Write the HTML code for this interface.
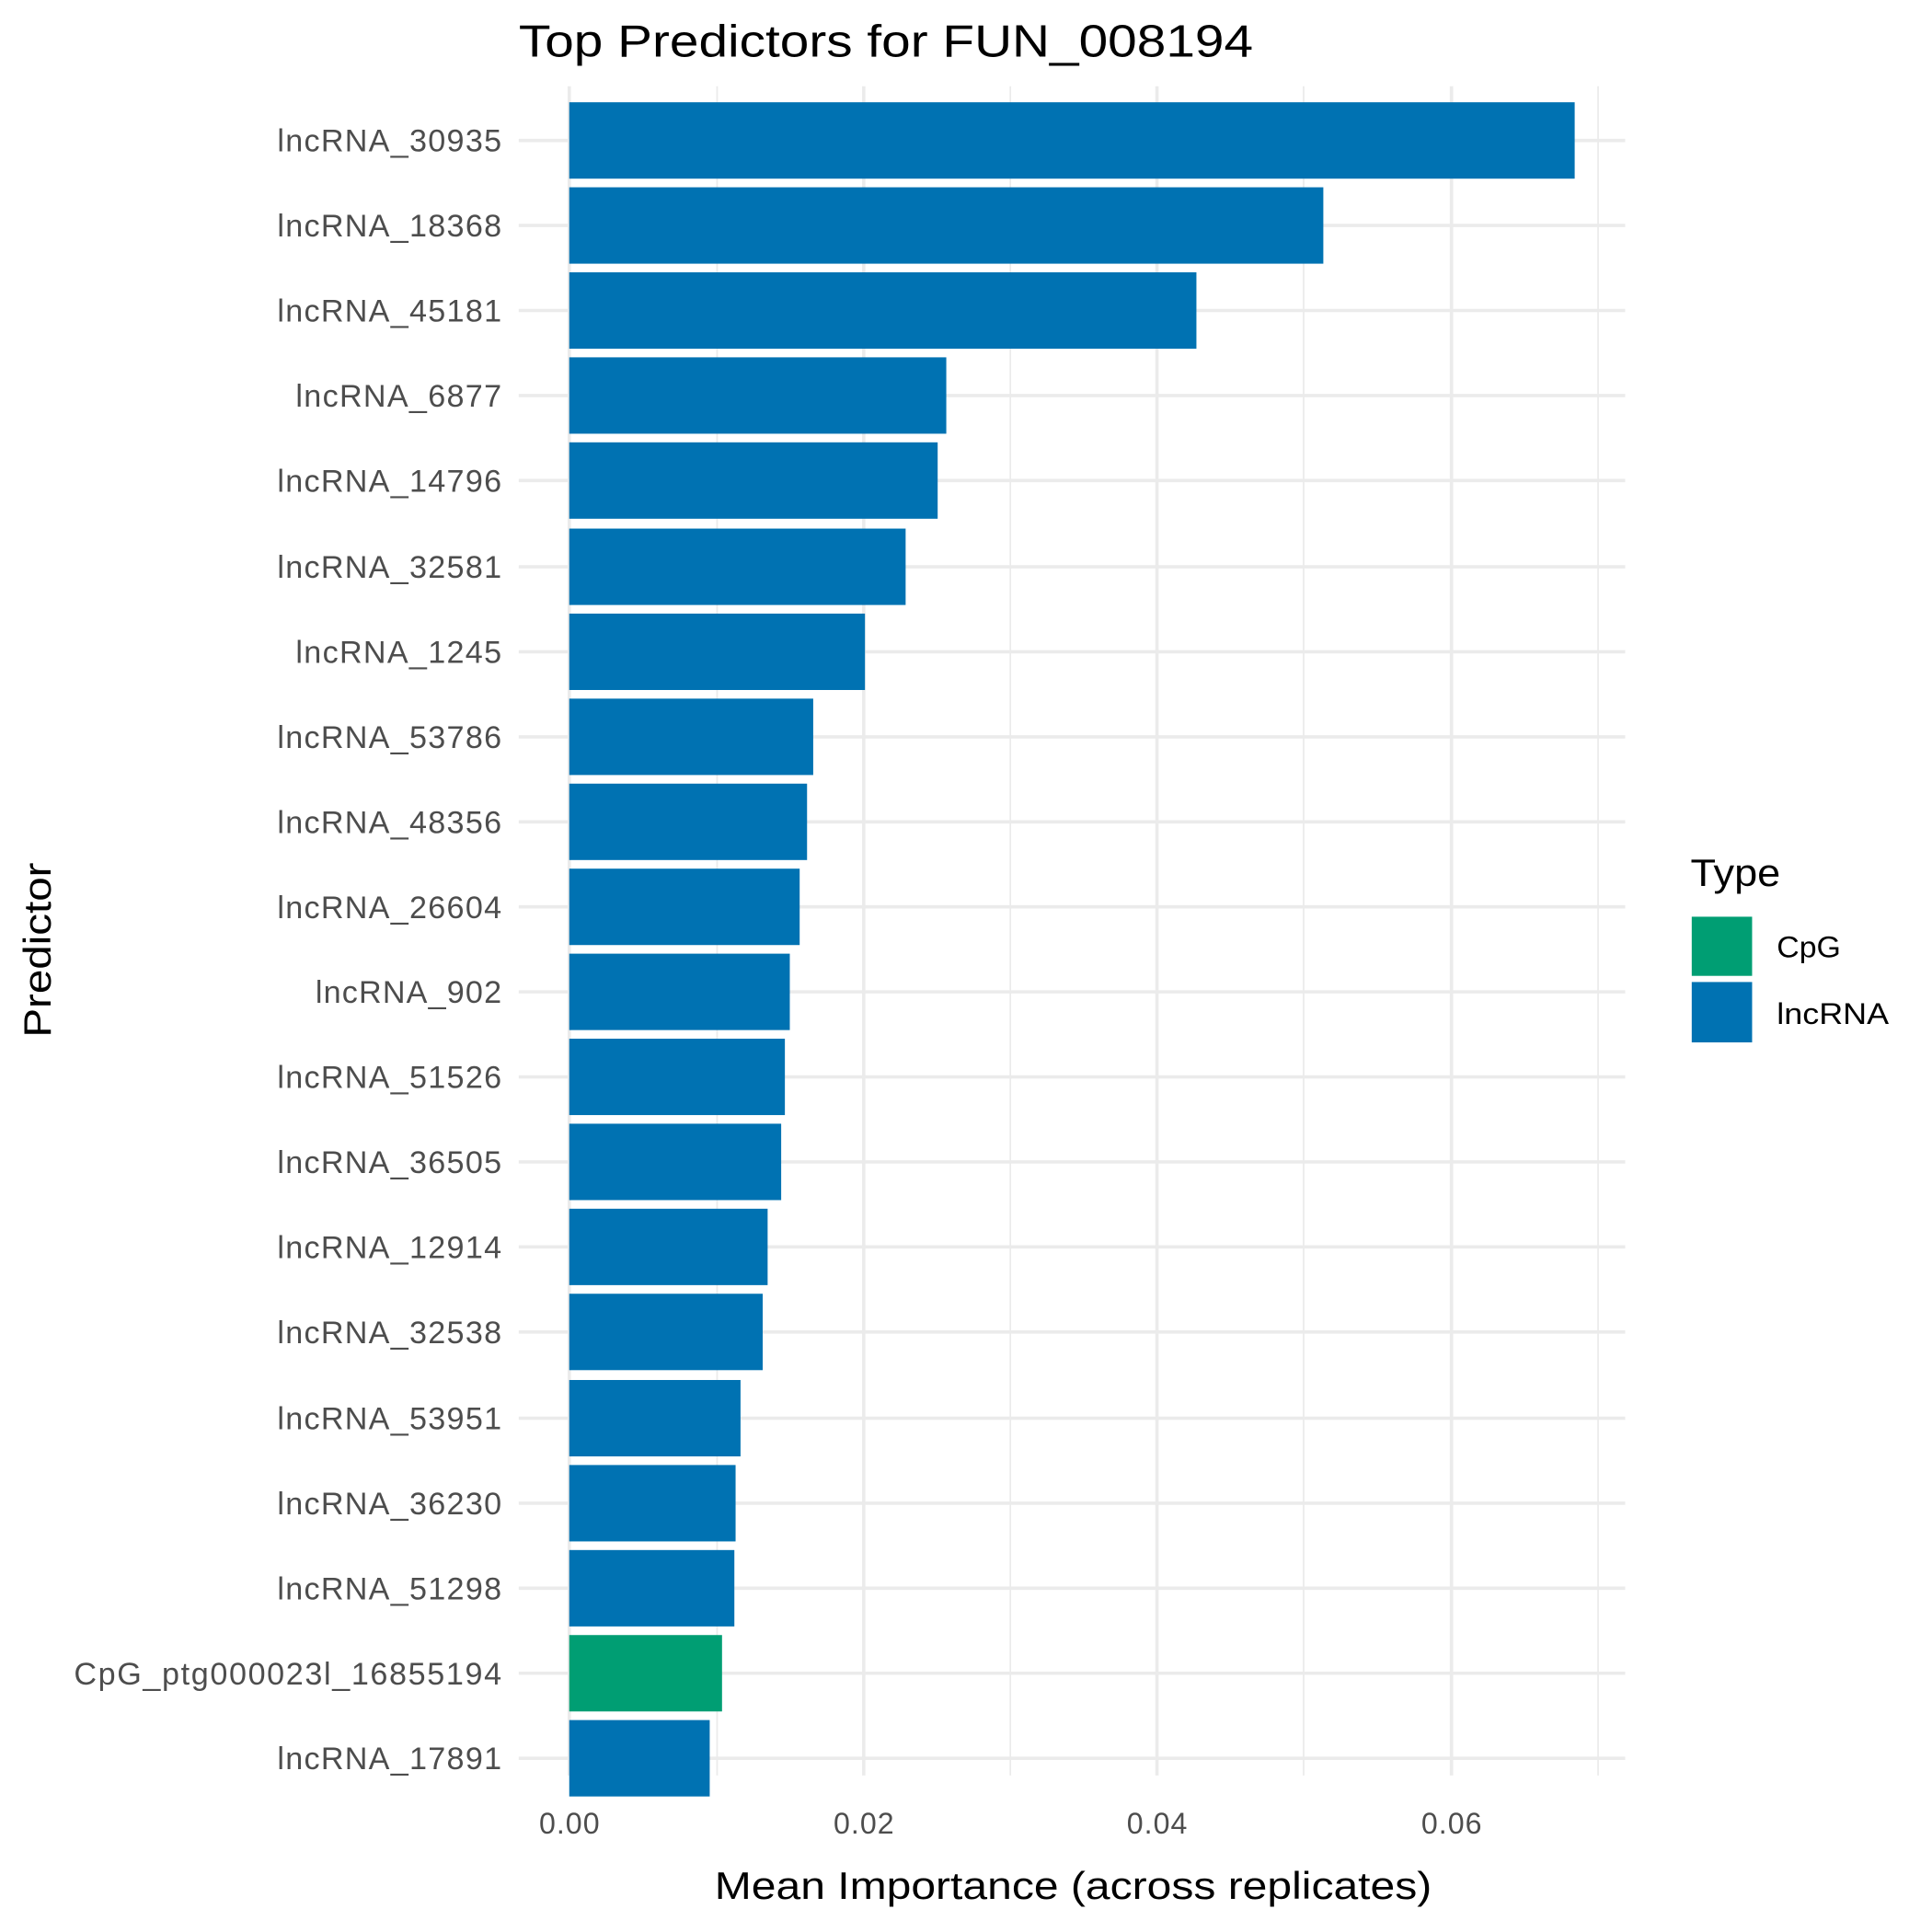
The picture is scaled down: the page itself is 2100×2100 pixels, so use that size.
<!DOCTYPE html>
<html><head><meta charset="utf-8"><style>html,body{margin:0;padding:0;background:#fff}svg{display:block}</style></head>
<body>
<svg xmlns="http://www.w3.org/2000/svg" width="2100" height="2100" viewBox="0 0 1568 1568" font-family="'Liberation Sans', 'DejaVu Sans', sans-serif">
<rect width="1568" height="1568" fill="#fff"/>
<g stroke="#ebebeb" stroke-width="1.3">
<line x1="582" y1="70" x2="582" y2="1441"/><line x1="820" y1="70" x2="820" y2="1441"/><line x1="1058" y1="70" x2="1058" y2="1441"/><line x1="1297" y1="70" x2="1297" y2="1441"/>
</g>
<g stroke="#ebebeb" stroke-width="2.7">
<line x1="462" y1="70" x2="462" y2="1441"/><line x1="701" y1="70" x2="701" y2="1441"/><line x1="939" y1="70" x2="939" y2="1441"/><line x1="1178" y1="70" x2="1178" y2="1441"/>
<line x1="421" x2="1319" y1="114" y2="114"/><line x1="421" x2="1319" y1="183" y2="183"/><line x1="421" x2="1319" y1="252" y2="252"/><line x1="421" x2="1319" y1="321" y2="321"/><line x1="421" x2="1319" y1="390" y2="390"/><line x1="421" x2="1319" y1="460" y2="460"/><line x1="421" x2="1319" y1="529" y2="529"/><line x1="421" x2="1319" y1="598" y2="598"/><line x1="421" x2="1319" y1="667" y2="667"/><line x1="421" x2="1319" y1="736" y2="736"/><line x1="421" x2="1319" y1="805" y2="805"/><line x1="421" x2="1319" y1="874" y2="874"/><line x1="421" x2="1319" y1="943" y2="943"/><line x1="421" x2="1319" y1="1012" y2="1012"/><line x1="421" x2="1319" y1="1081" y2="1081"/><line x1="421" x2="1319" y1="1151" y2="1151"/><line x1="421" x2="1319" y1="1220" y2="1220"/><line x1="421" x2="1319" y1="1289" y2="1289"/><line x1="421" x2="1319" y1="1358" y2="1358"/><line x1="421" x2="1319" y1="1427" y2="1427"/>
</g>
<g fill="#0072b2">
<rect x="462" y="83" width="816" height="62"/>
<rect x="462" y="152" width="612" height="62"/>
<rect x="462" y="221" width="509" height="62"/>
<rect x="462" y="290" width="306" height="62"/>
<rect x="462" y="359" width="299" height="62"/>
<rect x="462" y="429" width="273" height="62"/>
<rect x="462" y="498" width="240" height="62"/>
<rect x="462" y="567" width="198" height="62"/>
<rect x="462" y="636" width="193" height="62"/>
<rect x="462" y="705" width="187" height="62"/>
<rect x="462" y="774" width="179" height="62"/>
<rect x="462" y="843" width="175" height="62"/>
<rect x="462" y="912" width="172" height="62"/>
<rect x="462" y="981" width="161" height="62"/>
<rect x="462" y="1050" width="157" height="62"/>
<rect x="462" y="1120" width="139" height="62"/>
<rect x="462" y="1189" width="135" height="62"/>
<rect x="462" y="1258" width="134" height="62"/>
<rect x="462" y="1396" width="114" height="62"/>
</g>
<rect x="462" y="1327" width="124" height="62" fill="#009e73"/>
<g font-size="25.5" fill="#4d4d4d" text-anchor="end" lengthAdjust="spacingAndGlyphs">
<text x="407" y="123" textLength="182">lncRNA_30935</text><text x="407" y="192" textLength="182">lncRNA_18368</text><text x="407" y="261" textLength="182">lncRNA_45181</text><text x="407" y="330" textLength="167">lncRNA_6877</text><text x="407" y="399" textLength="182">lncRNA_14796</text><text x="407" y="469" textLength="182">lncRNA_32581</text><text x="407" y="538" textLength="167">lncRNA_1245</text><text x="407" y="607" textLength="182">lncRNA_53786</text><text x="407" y="676" textLength="182">lncRNA_48356</text><text x="407" y="745" textLength="182">lncRNA_26604</text><text x="407" y="814" textLength="151">lncRNA_902</text><text x="407" y="883" textLength="182">lncRNA_51526</text><text x="407" y="952" textLength="182">lncRNA_36505</text><text x="407" y="1021" textLength="182">lncRNA_12914</text><text x="407" y="1090" textLength="182">lncRNA_32538</text><text x="407" y="1160" textLength="182">lncRNA_53951</text><text x="407" y="1229" textLength="182">lncRNA_36230</text><text x="407" y="1298" textLength="182">lncRNA_51298</text><text x="407" y="1367" textLength="347">CpG_ptg000023l_16855194</text><text x="407" y="1436" textLength="182">lncRNA_17891</text>
</g>
<g font-size="24" fill="#4d4d4d" text-anchor="middle" lengthAdjust="spacingAndGlyphs">
<text x="462" y="1488" textLength="49">0.00</text><text x="701" y="1488" textLength="49">0.02</text><text x="939" y="1488" textLength="49">0.04</text><text x="1178" y="1488" textLength="49">0.06</text>
</g>
<text x="871" y="1541" font-size="31" text-anchor="middle" fill="#000" textLength="582" lengthAdjust="spacingAndGlyphs">Mean Importance (across replicates)</text>
<text transform="translate(41,771) rotate(-90)" font-size="31" text-anchor="middle" fill="#000" textLength="142" lengthAdjust="spacingAndGlyphs">Predictor</text>
<text x="421" y="46" font-size="37" fill="#000" textLength="596" lengthAdjust="spacingAndGlyphs">Top Predictors for FUN_008194</text>
<text x="1372" y="719" font-size="31" fill="#000" textLength="73" lengthAdjust="spacingAndGlyphs">Type</text>
<rect x="1373" y="744" width="49" height="48" fill="#009e73"/>
<rect x="1373" y="797" width="49" height="49" fill="#0072b2"/>
<text x="1442" y="777" font-size="24" fill="#000" textLength="52" lengthAdjust="spacingAndGlyphs">CpG</text>
<text x="1442" y="831" font-size="24" fill="#000" textLength="91" lengthAdjust="spacingAndGlyphs">lncRNA</text>
</svg>
</body></html>
